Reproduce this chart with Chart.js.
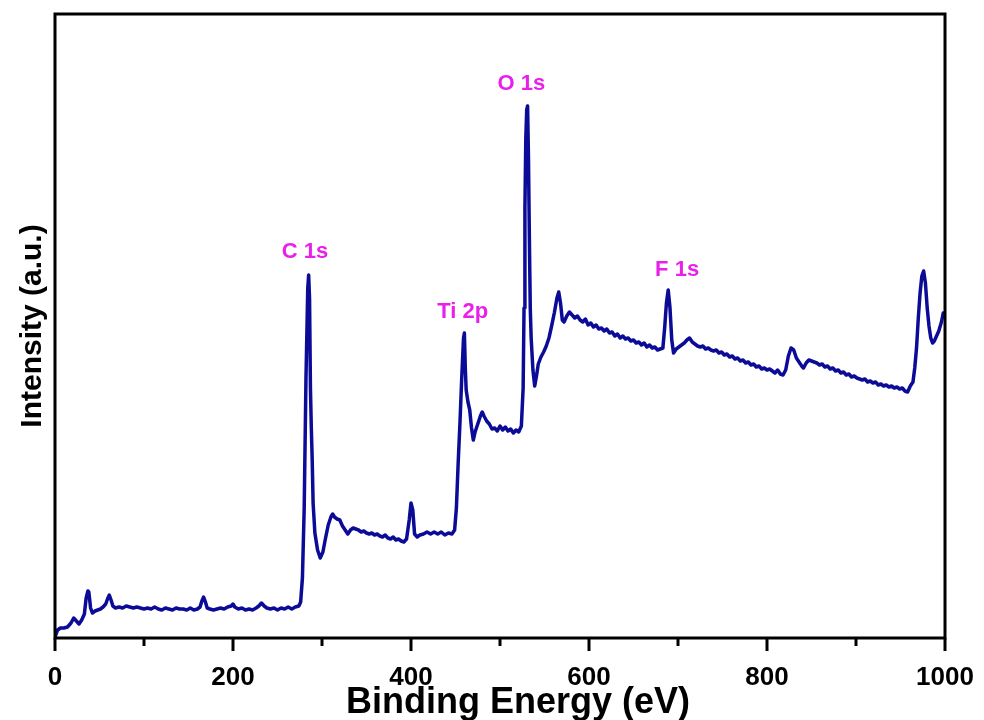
<!DOCTYPE html>
<html lang="en">
<head>
    <meta charset="UTF-8">
    <title>XPS Survey Spectrum</title>
    <script src="https://cdn.jsdelivr.net/npm/chart.js"></script>
    <style>
        html, body { margin: 0; padding: 0; background: #fff; }
        .chart-box { width: 984px; height: 720px; }
    </style>
</head>
<body>

<div class="chart-box">
    <canvas id="xps-chart"></canvas>
</div>

<script>
// binding energy (eV) and intensity (a.u.) of the survey scan
const energy = [
    0, 3, 6, 10, 14, 18, 21, 24, 27, 30, 33, 35,
    37, 38, 40, 42, 45, 48, 51, 54, 57, 59, 61, 63,
    65, 68, 72, 76, 80, 84, 88, 92, 96, 100, 104, 108,
    112, 116, 120, 124, 128, 132, 136, 140, 144, 148, 152, 156,
    160, 163, 165, 167, 169, 171, 174, 178, 182, 186, 190, 194,
    198, 200, 202, 206, 210, 214, 218, 222, 226, 229, 232, 235,
    238, 242, 246, 250, 254, 258, 262, 266, 270, 274, 276, 278,
    280, 282, 284, 285, 286, 287, 288, 289, 290, 292, 295, 298,
    301, 304, 307, 310, 312, 314, 317, 320, 323, 326, 329, 332,
    335, 338, 341, 344, 347, 350, 353, 356, 359, 362, 365, 368,
    371, 374, 377, 380, 383, 386, 389, 392, 395, 398, 400, 402,
    404, 407, 410, 414, 418, 422, 426, 430, 434, 438, 442, 446,
    449, 451, 453, 455, 457, 459, 460, 461, 462, 464, 466, 468,
    470, 472, 475, 478, 480, 482, 485, 488, 491, 494, 497, 500,
    503, 506, 509, 512, 515, 518, 521, 524, 526, 527, 528, 529,
    530, 531, 532, 533, 534, 535, 537, 539, 541, 543, 546, 549,
    552, 555, 558, 561, 564, 566, 568, 570, 572, 575, 578, 581,
    584, 587, 590, 593, 596, 599, 602, 605, 608, 611, 614, 617,
    620, 623, 626, 629, 632, 635, 638, 641, 644, 647, 650, 653,
    656, 659, 662, 665, 668, 671, 674, 677, 680, 683, 685, 687,
    689, 691, 693, 695, 698, 701, 704, 707, 710, 713, 716, 719,
    722, 725, 728, 731, 734, 737, 740, 743, 746, 749, 752, 755,
    758, 761, 764, 767, 770, 773, 776, 779, 782, 785, 788, 791,
    794, 797, 800, 803, 806, 809, 812, 815, 818, 821, 824, 827,
    830, 833, 836, 839, 841, 844, 847, 850, 853, 856, 859, 862,
    865, 868, 871, 874, 877, 880, 883, 886, 889, 892, 895, 898,
    901, 904, 907, 910, 913, 916, 919, 922, 925, 928, 931, 934,
    937, 940, 943, 946, 949, 952, 955, 958, 961, 964, 966, 968,
    970, 972, 974, 976, 978, 980, 982, 984, 986, 988, 990, 993,
    996, 998, 1000
];
const intensity = [
    1, 8, 10, 10, 11, 15, 20, 17, 14, 18, 24, 40,
    47, 46, 30, 25, 27, 28, 29, 31, 34, 39, 43, 38,
    32, 30, 31, 30, 32, 31, 30, 31, 30, 29, 30, 29,
    31, 29, 28, 30, 29, 28, 30, 29, 29, 28, 30, 28,
    29, 31, 37, 41, 36, 30, 29, 28, 29, 30, 29, 31,
    32, 34, 31, 29, 30, 28, 29, 28, 30, 32, 35, 32,
    30, 29, 30, 28, 30, 29, 31, 29, 31, 32, 36, 60,
    130, 260, 350, 363, 340, 250, 210, 178, 135, 105, 88, 80,
    86, 100, 113, 121, 124, 121, 119, 118, 112, 108, 104, 108,
    110, 109, 108, 106, 107, 105, 104, 105, 103, 104, 102, 101,
    103, 100, 99, 101, 98, 99, 97, 96, 99, 118, 135, 128,
    104, 101, 103, 104, 106, 104, 106, 104, 106, 103, 105, 104,
    108, 130, 175, 215, 260, 300, 305, 270, 248, 236, 228, 210,
    198, 206, 214, 222, 226, 222, 217, 214, 209, 210, 207, 212,
    208, 211, 207, 209, 205, 208, 206, 212, 250, 330, 430, 500,
    528, 532, 480, 400, 330, 300, 268, 252, 262, 274, 281, 286,
    292, 300, 312, 325, 340, 346, 335, 318, 316, 322, 326, 323,
    320, 322, 318, 316, 319, 313, 315, 311, 313, 309, 310, 307,
    309, 305, 306, 302, 304, 300, 302, 299, 300, 297, 298, 295,
    296, 293, 295, 291, 293, 290, 291, 288, 289, 290, 310, 335,
    348, 330, 298, 285, 289, 291, 293, 295, 298, 300, 296, 294,
    292, 291, 292, 289, 290, 288, 287, 288, 285, 286, 283, 284,
    281, 282, 279, 280, 277, 278, 275, 276, 273, 274, 271, 272,
    269, 270, 268, 269, 267, 265, 268, 264, 263, 268, 282, 290,
    288, 280, 276, 272, 270, 275, 278, 277, 276, 275, 273, 274,
    271, 272, 269, 270, 267, 268, 265, 266, 263, 264, 261, 262,
    260, 259, 258, 259, 256, 257, 255, 256, 253, 254, 252, 253,
    251, 252, 250, 251, 249, 250, 247, 246, 252, 256, 270, 290,
    320, 345, 362, 367, 355, 330, 312, 300, 295, 297, 301, 307,
    316, 325, 324
];

// peak labels and where they sit (eV, intensity of the text baseline)
const peakNames = ['C 1s', 'Ti 2p', 'O 1s', 'F 1s'];
const peakLabelX = [281, 458, 524, 699];
const peakLabelY = [380, 320, 548, 362];

const xTicks = [0, 100, 200, 300, 400, 500, 600, 700, 800, 900, 1000];
const xTitle = 'Binding Energy (eV)';

const FONT = "'Liberation Sans', Arial, sans-serif";

// box around the plot, bottom tick marks (long at labelled ticks) and the x title
const frameAndTicks = {
    id: 'frameAndTicks',
    afterDraw(chart) {
        const { ctx, chartArea, scales } = chart;
        ctx.save();
        ctx.strokeStyle = '#000';
        ctx.lineWidth = 3;
        ctx.strokeRect(chartArea.left, chartArea.top,
            chartArea.right - chartArea.left, chartArea.bottom - chartArea.top);
        xTicks.forEach(v => {
            const px = scales.x.getPixelForValue(v);
            const len = v % 200 === 0 ? 13 : 8;
            ctx.beginPath();
            ctx.moveTo(px, chartArea.bottom);
            ctx.lineTo(px, chartArea.bottom + len);
            ctx.stroke();
        });
        ctx.fillStyle = '#000';
        ctx.font = 'bold 36px ' + FONT;
        ctx.textAlign = 'center';
        ctx.textBaseline = 'alphabetic';
        ctx.fillText(xTitle, (chartArea.left + chartArea.right) / 2 + 18, 713);
        ctx.restore();
    }
};

const peakLabels = {
    id: 'peakLabels',
    afterDatasetsDraw(chart) {
        const { ctx, scales } = chart;
        ctx.save();
        ctx.fillStyle = '#ea1fea';
        ctx.font = 'bold 22px ' + FONT;
        ctx.textAlign = 'center';
        ctx.textBaseline = 'alphabetic';
        peakNames.forEach((name, i) => {
            ctx.fillText(name,
                scales.x.getPixelForValue(peakLabelX[i]),
                scales.y.getPixelForValue(peakLabelY[i]));
        });
        ctx.restore();
    }
};

const ctx = document.getElementById('xps-chart').getContext('2d');
new Chart(ctx, {
    type: 'line',
    data: {
        datasets: [{
            data: energy.map((e, i) => ({ x: e, y: intensity[i] })),
            borderColor: '#0b0b98',
            borderWidth: 3.5,
            borderJoinStyle: 'round',
            pointRadius: 0,
            tension: 0,
            fill: false
        }]
    },
    options: {
        responsive: true,
        maintainAspectRatio: false,
        animation: false,
        layout: { padding: { top: 14, right: 39, left: 0, bottom: 0 } },
        plugins: {
            legend: { display: false },
            tooltip: { enabled: false }
        },
        scales: {
            x: {
                type: 'linear',
                min: 0,
                max: 1000,
                grid: { display: false },
                border: { display: false },
                afterFit(scale) {
                    scale.height = 82;
                    scale.paddingLeft = 0;
                    scale.paddingRight = 0;
                },
                afterBuildTicks(scale) { scale.ticks = xTicks.map(v => ({ value: v })); },
                ticks: {
                    autoSkip: false,
                    maxRotation: 0,
                    padding: 16,
                    color: '#000',
                    font: { family: FONT, size: 26, weight: 'bold' },
                    callback: v => (v % 200 === 0 ? v : '')
                }
            },
            y: {
                min: 0,
                max: 624,
                grid: { display: false },
                border: { display: false },
                afterFit(scale) { scale.width = 55; },
                ticks: { display: false },
                title: {
                    display: true,
                    text: 'Intensity (a.u.)',
                    color: '#000',
                    font: { family: FONT, size: 30, weight: 'bold', lineHeight: 1 },
                    padding: { top: 18, bottom: 0 }
                }
            }
        }
    },
    plugins: [frameAndTicks, peakLabels]
});
</script>
</body>
</html>
